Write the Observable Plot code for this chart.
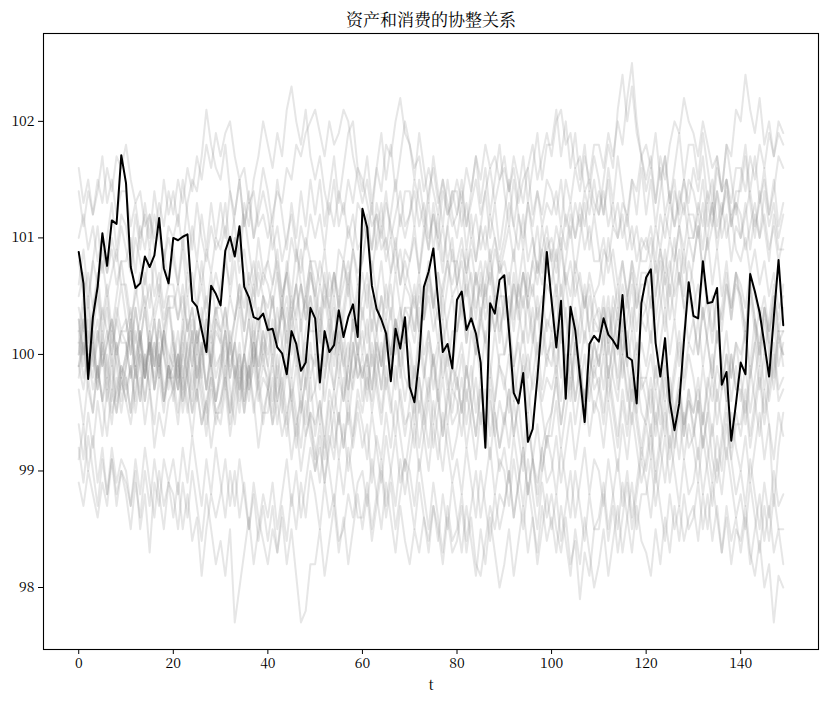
<!DOCTYPE html>
<html>
<head>
<meta charset="utf-8">
<script src="https://cdn.jsdelivr.net/npm/d3@7"></script>
<script src="https://cdn.jsdelivr.net/npm/@observablehq/plot@0.6"></script>
<style>
  html, body { margin: 0; padding: 0; background: white; }
</style>
</head>
<body>
<div id="chart"></div>
<script>
const title = "资产和消费的协整关系";
const xLabel = "t";
const xTicks = [0, 20, 40, 60, 80, 100, 120, 140];
const yTicks = [98, 99, 100, 101, 102];

// highlighted (black) series, t = 0..149
const mainSeries = [
  100.88,100.61,99.79,100.32,100.58,101.04,100.76,101.15,101.12,101.71,
  101.47,100.75,100.57,100.61,100.84,100.75,100.85,101.17,100.74,100.61,
  101.00,100.98,101.01,101.03,100.46,100.41,100.21,100.02,100.59,100.52,
  100.42,100.89,101.01,100.84,101.10,100.58,100.49,100.32,100.30,100.35,
  100.21,100.22,100.06,100.01,99.83,100.20,100.09,99.86,99.93,100.40,
  100.31,99.76,100.20,100.02,100.08,100.38,100.15,100.32,100.43,100.15,
  101.25,101.09,100.59,100.39,100.30,100.18,99.77,100.22,100.05,100.32,
  99.72,99.59,99.96,100.58,100.71,100.91,100.46,100.02,100.09,99.88,
  100.47,100.54,100.21,100.31,100.18,99.93,99.20,100.44,100.35,100.64,
  100.68,100.20,99.67,99.58,99.84,99.25,99.36,99.80,100.30,100.88,
  100.46,100.06,100.46,99.62,100.41,100.21,99.81,99.42,100.09,100.16,
  100.11,100.31,100.17,100.12,100.05,100.51,99.98,99.95,99.58,100.44,
  100.66,100.73,100.10,99.81,100.14,99.60,99.35,99.58,100.12,100.62,
  100.33,100.31,100.80,100.44,100.45,100.57,99.74,99.85,99.26,99.58,
  99.93,99.83,100.69,100.54,100.36,100.09,99.81,100.32,100.81,100.25
];

// background (grey) series: offsets from 100, in tenths, t = 0..149
const g01 = [16,13,15,12,14,17,13,15,12,14, 14,11,13,10,12,9,12,10,8,11, 10,12,9,13,15,14,17,21,18,16, 15,18,14,12,15,11,13,10,12,14, 12,9,11,8,10,12,9,7,10,8, 8,6,9,5,7,4,6,8,5,3, 5,7,4,2,5,3,6,2,4,1, 3,5,2,4,7,5,3,6,8,5, 6,9,7,10,8,11,9,12,10,8, 10,13,11,9,12,8,10,7,9,11, 8,11,9,12,10,13,11,14,12,15, 12,15,18,16,21,24,20,23,19,17, 15,17,13,16,12,14,11,13,15,12, 12,10,13,9,11,14,10,12,8,11, 10,13,9,12,10,14,11,13,10,12];
const g02 = [14,11,14,12,15,13,16,14,17,16, 18,15,13,14,11,12,9,11,8,10, 8,6,9,5,7,4,6,3,5,7, 5,8,6,10,9,13,11,15,17,20, 18,16,19,17,21,23,20,18,21,17, 15,17,14,12,15,11,13,10,12,9, 10,12,9,13,11,14,10,12,14,11, 12,15,13,11,14,16,13,15,12,14, 14,11,13,10,12,9,11,8,10,7, 9,11,8,12,10,13,11,14,12,15, 14,12,15,11,13,10,12,9,11,8, 8,10,7,9,6,8,5,7,4,6, 6,8,5,9,7,10,8,11,9,12, 10,13,11,14,12,16,14,18,17,21, 20,24,21,19,22,18,20,17,19,18];
const g03 = [10,12,9,11,8,10,7,9,6,8, 8,10,7,11,9,12,10,13,11,14, 12,15,13,16,14,17,15,18,16,19, 17,19,20,17,15,16,13,14,11,12, 10,12,14,13,16,15,18,17,19,20, 21,19,17,20,18,19,21,20,17,15, 13,15,12,16,14,18,17,20,22,19, 18,16,17,14,16,14,12,15,13,11, 12,14,11,13,15,12,14,16,13,15, 16,14,17,15,13,16,12,14,11,13, 12,14,11,15,13,16,14,17,15,18, 18,16,19,17,20,18,22,25,20,17, 14,16,13,17,15,18,20,19,22,20, 19,17,20,18,16,17,14,15,12,13, 10,12,14,11,13,15,12,14,17,16];
const g04 = [8,5,7,4,6,8,5,7,9,6, 6,3,5,7,4,6,3,5,2,4, 4,6,3,7,5,8,6,9,7,10, 9,11,8,10,7,9,6,8,5,7, 6,4,7,3,5,2,4,6,3,5, 3,6,4,7,5,9,8,11,9,13, 12,10,13,9,11,8,10,7,9,6, 8,10,7,11,9,12,10,14,12,13, 15,13,16,14,17,15,18,16,17,15, 17,14,16,13,15,16,18,15,17,19, 17,20,21,18,19,16,17,14,15,13, 12,14,11,13,10,12,9,11,8,10, 9,11,8,12,10,13,11,14,12,15, 14,12,15,11,13,10,12,14,11,13, 12,9,11,13,10,12,9,11,8,10];
const g05 = [5,7,4,8,6,9,7,10,8,11, 9,7,10,8,6,9,5,7,4,6, 6,3,5,2,4,1,3,5,2,4, 2,4,1,3,5,2,6,4,7,5, 4,6,8,5,7,10,8,11,9,12, 10,12,9,13,11,14,12,15,13,16, 15,13,11,12,9,10,7,9,6,8, 6,4,7,3,5,2,4,1,3,5, 2,4,6,3,7,5,8,6,9,7, 8,6,9,5,7,4,6,3,5,2, 4,6,3,7,5,8,6,4,7,5, 6,9,8,11,10,13,12,15,14,17, 18,16,19,15,17,13,15,11,13,10, 10,12,9,13,11,14,12,15,13,16, 16,14,17,15,18,16,19,17,20,19];
const g06 = [3,0,2,-1,1,4,2,0,3,1, 1,-2,0,2,-1,1,-3,-1,-4,-2, -2,0,-3,1,-1,2,0,3,1,4, 4,2,5,3,6,4,7,5,8,6, 8,6,9,5,7,4,6,3,5,2, 2,4,1,3,0,2,-1,1,-2,0, -2,0,-3,1,-1,2,0,3,1,4, 4,2,5,3,6,4,7,5,8,6, 8,10,7,9,6,8,5,7,4,6, 3,5,2,6,4,7,5,8,6,9, 10,8,11,9,12,10,13,11,14,12, 14,12,15,11,13,10,12,9,11,8, 8,10,7,9,6,8,5,7,4,6, 4,6,3,5,2,5,3,6,4,7, 6,4,7,5,3,5,2,4,1,2];
const g07 = [1,-2,0,-3,-1,-4,-2,-5,-3,-1, -3,-1,-4,0,-2,1,-1,2,0,-2, -1,-3,0,-2,-5,-3,-6,-4,-2,-5, -4,-2,-5,-1,-3,0,-2,1,-1,2, 0,3,1,4,2,5,3,6,4,7, 5,8,6,4,7,5,8,6,9,7, 8,11,9,12,10,13,11,9,12,10, 12,14,11,13,10,12,9,11,8,10, 6,8,5,7,4,6,3,5,2,4, 0,2,-1,1,-2,0,-3,-1,-4,-2, -3,-1,-4,0,-2,1,-1,2,0,3, 2,4,1,5,3,6,4,8,6,9, 10,8,11,9,12,10,14,12,15,13, 16,14,17,13,15,11,13,10,12,9, 8,10,7,9,6,8,5,7,4,5];
const g08 = [-1,1,-2,0,2,-1,1,3,0,2, 2,4,1,3,5,2,4,6,3,5, 5,3,6,2,4,1,3,0,2,-1, 0,2,-1,1,-2,0,-3,-1,-4,-2, -3,-1,-4,-2,-5,-3,-6,-4,-7,-5, -6,-4,-7,-3,-5,-2,-4,-1,-3,0, -2,0,-3,1,-1,2,0,3,1,4, 3,1,4,0,2,-1,1,-2,0,-3, -1,1,-2,2,0,3,1,4,2,5, 5,3,6,4,7,5,8,6,9,7, 9,7,10,6,8,5,7,4,6,3, 4,2,5,1,3,0,2,-1,1,-2, -2,0,-3,-1,-4,-2,-5,-3,-6,-4, -5,-3,-6,-2,-4,-1,-3,0,-2,1, 0,2,-1,3,1,4,2,5,3,6];
const g09 = [2,-1,3,0,-3,1,-2,2,-1,-4, -1,2,-2,1,4,0,3,-1,2,-2, 1,-3,0,3,-1,2,-2,-5,-1,-4, -2,1,-3,-6,-2,-5,-1,-4,-8,-5, -5,-2,-6,-3,0,-4,-1,-5,-2,1, -3,-6,-2,1,-3,0,-4,-1,3,0, 2,-1,3,0,-3,1,-2,2,-1,-4, -1,-5,-2,-6,-3,0,-4,-7,-3,-6, -5,-2,-6,-3,1,-2,2,-1,-4,0, 0,3,-1,2,5,1,4,0,3,6, 5,2,6,3,0,4,1,5,2,-1, 1,4,0,3,6,2,5,8,4,7, 7,4,8,5,2,6,3,7,4,1, 3,0,4,1,-2,2,-1,-4,0,-3, -3,-6,-2,1,-3,0,-4,-1,2,0];
const g10 = [1,4,0,3,6,2,5,1,4,2, 3,0,4,1,-2,2,-1,3,0,-3, 0,-3,1,-2,-5,-1,-4,-7,-3,-6, -4,-1,-5,-2,1,-3,0,3,-1,2, -1,2,-2,1,4,0,3,-1,2,5, 0,3,-1,2,5,1,4,7,3,6, 3,6,2,5,8,4,7,10,6,9, 8,11,7,10,13,9,12,8,11,14, 12,15,11,14,17,13,16,12,15,18, 14,11,15,12,9,13,10,7,11,8, 6,9,5,8,11,7,10,13,9,12, 9,6,10,7,4,8,5,2,6,3, 4,7,3,6,9,5,8,11,7,10, 8,11,7,10,13,9,12,15,11,14, 14,17,13,10,14,11,8,12,9,9];
const g11 = [0,3,-1,2,-2,1,-3,0,-4,-1, -2,-5,-1,-4,0,-3,-6,-2,-5,-1, -4,-1,-5,-2,1,-3,0,3,-1,2, 1,4,0,3,6,2,5,1,4,0, 3,-1,2,5,1,4,0,-3,1,-2, 0,-3,2,-1,-3,1,-1,-4,1,-2, -1,-4,0,-3,-6,-2,-5,-1,-4,-7, -4,-1,-5,-2,1,-3,0,3,-1,2, 2,5,1,4,7,3,6,9,5,8, 6,3,7,4,1,5,2,-1,3,0, 1,-2,2,-1,-4,0,-3,-6,-2,-5, -3,0,-4,-1,2,-2,1,4,0,3, 2,5,1,4,7,3,6,9,5,8, 6,3,7,4,1,5,2,6,3,7, 4,1,5,2,-1,3,0,-3,1,0];
const g12 = [-1,-3,0,-2,2,-1,1,3,0,2, 1,-2,2,-1,-4,0,-2,1,-3,-1, -2,-5,-1,-4,-7,-3,-6,-4,-8,-5, -6,-3,-7,-4,-1,-5,-2,1,-3,-1, -2,-5,-1,-4,-7,-4,-8,-5,-2,-6, -8,-11,-7,-10,-13,-9,-12,-8,-11,-14, -14,-11,-15,-12,-9,-13,-10,-7,-11,-9, -10,-13,-9,-12,-15,-11,-14,-17,-13,-16, -15,-12,-16,-13,-10,-14,-11,-8,-12,-9, -10,-13,-9,-12,-15,-11,-14,-17,-13,-16, -14,-17,-13,-16,-19,-15,-18,-14,-17,-20, -18,-15,-19,-16,-13,-17,-14,-11,-15,-12, -12,-9,-13,-10,-7,-11,-8,-5,-9,-6, -8,-11,-7,-10,-13,-9,-12,-8,-11,-14, -12,-15,-11,-14,-17,-13,-16,-12,-15,-15];
const g13 = [-2,1,-3,-5,-1,-4,-7,-3,-5,-2, -4,-6,-3,0,-4,-1,1,-2,2,0, -1,2,-2,1,3,0,4,1,-1,3, 2,-1,1,-2,0,-4,-1,-5,-2,0, -3,-6,-4,-7,-5,-9,-6,-10,-7,-5, -10,-8,-11,-7,-9,-5,-8,-4,-7,-3, -5,-2,-4,0,-3,1,-1,2,-2,1, 0,-3,1,-2,2,-1,-4,0,-3,-1, -2,-5,-1,-4,-7,-3,-6,-9,-5,-8, -6,-3,-7,-4,-1,-5,-2,1,-3,0, -1,2,-2,1,4,0,3,6,2,5, 3,0,4,1,-2,2,-1,-4,0,-3, -2,-5,-1,-4,-7,-3,-6,-9,-5,-8, -7,-4,-8,-5,-2,-6,-3,0,-4,-1, -4,-1,-5,-2,1,-3,0,3,-1,1];
const g14 = [-3,-6,-2,-5,-1,-4,0,-3,1,-2, 0,3,-1,2,-2,1,-3,0,-4,-1, -3,0,-4,-1,2,-2,1,-3,0,-4, -1,2,-2,1,4,0,3,-1,2,5, 2,5,1,4,7,3,6,9,5,8, 4,1,5,2,-1,3,0,-3,1,-2, 0,-3,1,-2,-5,-1,-4,-7,-3,-6, -5,-8,-4,-7,-10,-6,-9,-5,-8,-11, -9,-12,-8,-11,-14,-10,-13,-16,-12,-15, -13,-10,-14,-11,-8,-12,-9,-6,-10,-7, -7,-4,-8,-5,-2,-6,-3,0,-4,-1, -3,-6,-2,-5,-8,-4,-7,-3,-6,-9, -6,-9,-5,-8,-11,-7,-10,-13,-9,-12, -11,-8,-12,-9,-6,-10,-7,-4,-8,-5, -7,-4,-8,-5,-2,-6,-3,0,-4,-3];
const g15 = [-8,-11,-7,-10,-13,-9,-12,-8,-11,-9, -10,-13,-9,-12,-8,-11,-14,-10,-13,-11, -12,-15,-11,-14,-10,-13,-16,-12,-15,-18, -16,-19,-15,-23,-20,-17,-14,-18,-15,-12, -14,-11,-15,-12,-9,-13,-10,-14,-11,-8, -10,-7,-11,-8,-5,-9,-6,-10,-7,-4, -6,-9,-5,-8,-11,-7,-10,-13,-9,-12, -9,-6,-10,-7,-4,-8,-5,-2,-6,-3, -4,-7,-3,-6,-9,-5,-8,-4,-7,-10, -8,-11,-7,-10,-13,-9,-12,-15,-11,-14, -12,-15,-17,-14,-18,-16,-21,-17,-19,-15, -14,-11,-15,-12,-9,-13,-10,-14,-11,-8, -10,-7,-11,-8,-5,-9,-6,-3,-7,-4, -6,-9,-5,-8,-11,-7,-10,-6,-9,-12, -10,-13,-9,-12,-15,-11,-14,-10,-13,-12];
const g16 = [-9,-6,-10,-7,-11,-8,-12,-9,-13,-10, -12,-15,-11,-14,-10,-13,-9,-12,-15,-11, -14,-11,-15,-12,-16,-14,-19,-15,-12,-14, -12,-9,-13,-10,-14,-11,-15,-12,-16,-13, -16,-13,-17,-14,-18,-15,-19,-23,-22,-18, -18,-15,-19,-16,-13,-17,-14,-18,-15,-12, -15,-12,-16,-13,-10,-14,-11,-15,-12,-9, -12,-15,-11,-14,-17,-13,-16,-12,-15,-11, -14,-17,-13,-16,-19,-15,-18,-14,-17,-20, -18,-15,-19,-16,-13,-17,-14,-18,-15,-12, -15,-12,-16,-13,-10,-14,-11,-8,-12,-9, -10,-13,-9,-12,-15,-11,-14,-17,-13,-16, -17,-19,-15,-18,-14,-17,-13,-16,-12,-15, -14,-11,-15,-12,-16,-13,-17,-14,-18,-15, -16,-13,-17,-19,-16,-20,-18,-23,-19,-20];
const g17 = [-1,2,-2,1,-3,0,-4,-1,-5,-2, -4,-1,-5,-2,-6,-3,-8,-5,-7,-4, -3,0,-4,-1,2,-2,1,-3,0,3, 1,-2,2,-1,-4,0,-3,1,-2,-5, -3,-6,-2,-5,-1,-4,-7,-3,-6,-2, -7,-4,-8,-4,-8,-5,-8,-5,-8,-5, -8,-6,-11,-7,-9,-5,-8,-4,-7,-10, -7,-4,-8,-5,-2,-6,-3,-7,-4,-1, -3,0,-4,-1,-5,-2,-6,-3,-7,-4, -6,-3,-7,-4,-8,-5,-9,-11,-8,-6, -5,-2,-6,-3,0,-4,-1,-5,-2,1, -1,2,-2,1,-3,0,-4,-1,-5,-2, -4,-7,-3,-6,-2,-5,-8,-4,-7,-3, -7,-4,-8,-5,-9,-11,-8,-5,-9,-6, -6,-3,-7,-4,-1,-5,-2,1,-3,-2];
const g18 = [-11,-13,-10,-12,-14,-11,-13,-9,-12,-10, -11,-13,-10,-15,-12,-17,-11,-13,-9,-11, -9,-12,-8,-11,-7,-10,-13,-9,-12,-8, -11,-14,-10,-13,-9,-12,-15,-11,-14,-16, -18,-15,-17,-13,-16,-12,-15,-11,-14,-10, -12,-15,-11,-14,-12,-16,-15,-12,-14,-11, -10,-13,-9,-12,-15,-11,-14,-17,-13,-16, -18,-15,-17,-14,-16,-13,-15,-18,-14,-17, -16,-13,-17,-14,-18,-19,-16,-13,-15,-12, -13,-10,-14,-11,-8,-12,-9,-13,-10,-7, -9,-12,-8,-11,-14,-10,-13,-16,-12,-15, -15,-12,-16,-13,-17,-14,-11,-15,-12,-9, -11,-14,-10,-13,-16,-12,-15,-13,-16,-14, -13,-16,-12,-15,-11,-14,-17,-13,-16,-14, -17,-14,-18,-15,-12,-16,-13,-17,-15,-18];
const g19 = [0,3,-1,2,5,1,4,0,3,6, 3,0,4,1,-2,2,-1,3,0,4, 1,-2,2,5,1,4,8,4,7,3, 6,9,5,8,4,7,3,6,2,5, 3,0,4,1,-2,2,-1,3,-3,0, -1,2,-2,1,4,0,3,6,2,5, 7,4,8,5,2,6,3,7,4,1, 3,6,2,5,8,4,7,3,6,9, 6,3,7,4,1,4,1,-2,2,-1, -2,-5,-1,-4,0,-3,-6,-2,-5,-8, -5,-2,-6,-3,0,-4,-1,-5,-2,1, -1,2,-2,1,4,0,3,6,2,5, 4,1,5,8,4,7,10,6,9,5, 8,11,7,10,6,9,5,8,4,7, 5,2,6,3,0,4,1,-2,2,-1];
const g20 = [4,2,5,1,3,0,2,-1,1,-2, 0,3,-1,2,-2,1,-3,0,-4,-1, -3,-6,-2,-5,-1,-4,0,-3,1,-2, 0,-3,1,-2,-5,-1,-4,0,-3,-6, -3,0,-4,-1,2,-2,1,-3,0,-4, -3,0,-4,-1,2,-2,1,-3,0,3, 0,3,-1,2,5,1,4,0,3,6, 5,2,6,3,7,4,1,5,2,-1, 2,5,1,4,0,3,6,2,5,1, 5,2,6,3,7,4,1,5,2,-1, 2,-1,3,0,-3,1,-2,-4,0,-2, 0,-3,1,-2,-4,0,-3,-6,-2,-5, -6,-3,-7,-4,-1,-5,-2,1,-3,0, -2,-5,-1,-4,-7,-3,-6,-9,-5,-8, -10,-7,-11,-8,-5,-9,-6,-13,-8,-5];
const g21 = [6,9,5,8,11,7,10,13,9,12, 11,8,12,9,13,10,14,11,15,12, 14,11,15,12,9,13,10,8,11,9, 10,13,9,12,15,11,14,10,13,16, 14,11,15,12,9,13,10,14,11,15, 12,15,11,14,17,13,16,19,20,16, 14,17,13,16,19,15,18,14,17,20, 18,15,19,16,13,17,14,11,15,12, 10,13,9,12,8,11,14,10,13,9, 12,15,11,14,17,13,16,19,15,18, 18,21,17,20,16,19,15,18,14,17, 15,12,16,13,17,14,11,15,12,16, 12,15,11,14,17,13,16,19,15,18, 18,15,19,16,13,17,14,18,15,12, 15,18,14,17,13,16,12,15,11,13];
const g22 = [-6,-9,-5,-8,-4,-7,-3,-6,-2,-5, -2,-5,-1,-4,0,-3,1,-2,2,-1, 2,-1,3,0,-3,1,-2,2,-1,-4, -1,2,-2,1,-3,0,3,-1,2,-1, 2,5,1,4,0,3,6,2,5,8, 6,3,7,4,1,5,2,-1,3,0, 4,1,5,2,-1,3,0,-3,1,-2, -3,-6,-2,-5,-8,-4,-7,-10,-6,-9, -7,-4,-8,-5,-2,-6,-3,-7,-4,-1, -3,0,-4,-1,2,-2,1,4,0,3, 2,5,1,4,0,3,-1,-4,0,-3, -2,-5,-1,-4,-7,-3,-6,-2,-5,-8, -5,-2,-6,-3,0,-4,-1,2,-2,1, 0,3,-1,2,5,1,4,7,3,6, 5,2,6,3,0,4,1,5,2,2];
const g23 = [2,5,1,4,7,3,6,2,5,8, 5,2,6,3,7,4,8,5,9,6, 9,6,10,7,11,8,12,9,13,10, 13,10,14,11,8,12,9,6,10,7, 8,11,7,4,8,5,9,6,3,7, 5,2,6,3,7,4,8,5,9,6, 8,11,7,10,13,9,12,15,11,14, 14,11,15,12,9,13,10,7,11,8, 8,5,9,6,3,7,4,8,5,2, 4,7,3,6,9,5,8,11,7,10, 8,5,9,6,3,7,4,1,5,2, 2,5,1,4,0,3,-1,2,-2,1, -1,2,-2,1,4,0,3,-1,2,5, 3,0,4,1,-2,2,-1,-4,0,-3, -1,2,-2,1,4,0,3,6,2,4];
const g24 = [3,0,4,1,-2,2,-1,-4,0,-3, -1,2,-2,1,4,0,3,-1,2,5, 1,-2,2,-1,-4,0,-3,-6,-2,-5, -5,-2,-6,-3,0,-4,-1,2,-2,1, -1,-4,0,-3,-6,-2,-5,-8,-4,-7, -9,-6,-9,-6,-3,-6,-2,-6,-2,1, -4,-1,-5,-2,1,-3,0,3,-1,2, 1,-2,2,-1,-4,0,-3,1,-2,-5, -2,-5,-1,-4,-7,-3,-6,-2,-5,-8, -5,-8,-4,-7,-10,-6,-9,-12,-8,-11, -10,-7,-11,-8,-5,-9,-6,-3,-7,-4, -5,-8,-4,-7,-10,-6,-9,-5,-8,-11, -9,-6,-10,-7,-4,-8,-5,-2,-6,-3, -5,-2,-6,-3,0,-4,-1,2,-2,1, -2,-5,-1,-4,-7,-3,-6,-9,-5,-7];

const greySeries = [g01,g02,g03,g04,g05,g06,g07,g08,g09,g10,g11,g12,g13,g14,g15,g16,g17,g18,g19,g20,g21,g22,g23,g24];

const greyData = greySeries.flatMap((arr, s) => arr.map((v, t) => ({t, value: 100 + v / 10, s})));
const mainData = mainSeries.map((value, t) => ({t, value}));

const serif = "'Noto Serif CJK SC', 'Liberation Serif', 'DejaVu Serif', serif";

const chart = Plot.plot({
  width: 827,
  height: 702,
  marginLeft: 43,
  marginRight: 9,
  marginTop: 33,
  marginBottom: 53,
  style: {fontFamily: serif, fontSize: "14px", color: "black", background: "white"},
  x: {domain: [-7.45, 156.45]},
  y: {domain: [97.468, 102.754]},
  marks: [
    Plot.line(greyData, {x: "t", y: "value", z: "s", stroke: "#808080", strokeOpacity: 0.2, strokeWidth: 2}),
    Plot.line(mainData, {x: "t", y: "value", stroke: "black", strokeWidth: 2}),
    Plot.frame({stroke: "black", strokeWidth: 1.1}),
    Plot.axisX({ticks: xTicks, tickSize: 5, tickPadding: 4, label: xLabel, labelAnchor: "center", labelArrow: "none", labelOffset: 40, fontSize: 14}),
    Plot.axisY({ticks: yTicks, tickFormat: d3.format("d"), tickSize: 5, tickPadding: 4, label: null, fontSize: 14}),
    Plot.text([title], {frameAnchor: "top", dy: -20, text: d => d, fontSize: 17, fontFamily: serif, fill: "black"})
  ]
});
document.getElementById("chart").appendChild(chart);
</script>
</body>
</html>
